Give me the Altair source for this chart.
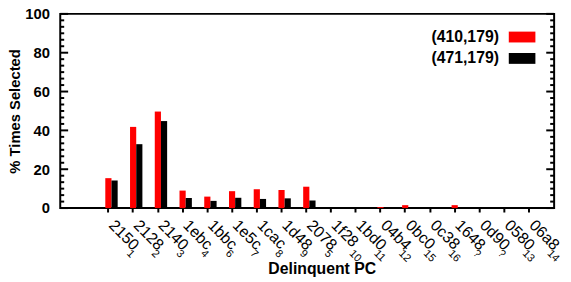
import altair as alt
import pandas as pd

# ---- data ----
pc_main = ["2150", "2128", "2140", "1ebc", "1bbc", "1e5c", "1cac", "1d48", "2078",
           "1f28", "1bd0", "04b4", "0bc0", "0c38", "1648", "0d90", "0580", "06a8"]
pc_sub = ["1", "2", "3", "4", "6", "7", "8", "9", "5", "10", "11", "12", "15", "16",
          "?", "?", "13", "14"]
series = ["(410,179)", "(471,179)"]
vals_410 = [15.4, 41.8, 49.7, 9.0, 5.9, 8.7, 9.7, 9.3, 11.0, 0, 0, 0.5, 1.5, 0, 1.5, 0, 0, 0]
vals_471 = [14.2, 32.9, 44.8, 5.2, 3.7, 5.3, 4.7, 5.0, 3.9, 0, 0, 0, 0.5, 0, 0, 0, 0, 0]
colors = ["#ff0000", "#000000"]
y_major = [0, 20, 40, 60, 80, 100]
minor_per_major = 6

pcs = [m + s for m, s in zip(pc_main, pc_sub)]
rows = []
for i, pc in enumerate(pcs):
    rows.append({"pc": pc, "series": series[0], "value": vals_410[i]})
    rows.append({"pc": pc, "series": series[1], "value": vals_471[i]})
df = pd.DataFrame(rows)
sub_df = pd.DataFrame({"pc": pcs, "sub": pc_sub})

step = (y_major[1] - y_major[0]) / minor_per_major
minor_ticks = [round(y_major[0] + k * step, 4)
               for k in range((len(y_major) - 1) * minor_per_major + 1)
               if k % minor_per_major != 0]
major_df = pd.DataFrame({"value": y_major})
minor_df = pd.DataFrame({"value": minor_ticks})

W, H = 501, 197
FONT = "Liberation Sans"
TICK, LPAD = 4, 10.5

x_scale = alt.Scale(domain=pcs, paddingInner=0.5, paddingOuter=0, range=[45.7, 484.8])
y_scale = alt.Scale(domain=[0, 100], nice=False, zero=True)
color_scale = alt.Scale(domain=series, range=colors)

x_axis = alt.Axis(bandPosition=0.25, labelAngle=45, labelAlign="left",
                  labelBaseline="middle", labelFont=FONT, labelFontSize=16,
                  labelColor="black", labelPadding=LPAD, tickSize=TICK, tickWidth=2,
                  tickColor="black", domain=False, titleFont=FONT,
                  titleFontSize=16, titleFontWeight="bold", titleColor="black",
                  titlePadding=8, labelOverlap=False,
                  labelExpr="substring(datum.label, 0, 4)")
y_axis = alt.Axis(values=y_major, ticks=False, tickSize=0, domain=False,
                  grid=False, labelFont=FONT, labelFontSize=15,
                  labelFontWeight="bold", labelColor="black", labelPadding=11,
                  titleFont=FONT, titleFontSize=15, titleFontWeight="bold",
                  titleColor="black", titlePadding=2)

X = alt.X("pc:N", scale=x_scale, sort=pcs, title="Delinquent PC", axis=x_axis)
Y_TITLE = "% Times Selected"

bars = alt.Chart(df).mark_bar().encode(
    x=X,
    xOffset=alt.XOffset("series:N", scale=alt.Scale(domain=series), sort=series),
    y=alt.Y("value:Q", scale=y_scale, title=Y_TITLE, axis=y_axis),
    color=alt.Color("series:N", scale=color_scale, legend=None),
)

subs = alt.Chart(sub_df).mark_text(
    angle=45, align="left", baseline="middle", font=FONT, fontSize=11,
    dx=35.5, dy=7, color="black"
).encode(
    x=alt.X("pc:N", scale=x_scale, sort=pcs, title="Delinquent PC", axis=x_axis,
            bandPosition=0.25),
    y=alt.value(H + TICK + LPAD),
    text="sub:N",
)

def tick_layer(data, x0, x1):
    return alt.Chart(data).mark_rule(color="black", strokeWidth=2).encode(
        y=alt.Y("value:Q", scale=y_scale, title=Y_TITLE, axis=y_axis),
        x=alt.value(x0), x2=alt.value(x1),
    )

tick_layers = [
    tick_layer(major_df, 0, 8), tick_layer(minor_df, 0, 4),
    tick_layer(major_df, W - 8, W), tick_layer(minor_df, W - 4, W),
]

legend_layers = []
for i, s in enumerate(series):
    ldf = pd.DataFrame({"series": [s]})
    yc = 23.5 + i * 21.7
    sw = alt.Chart(ldf).mark_rect().encode(
        x=alt.value(455), x2=alt.value(482), y=alt.value(yc - 5.5), y2=alt.value(yc + 5.5),
        color=alt.Color("series:N", scale=color_scale, legend=None),
    )
    tx = alt.Chart(ldf).mark_text(align="right", baseline="middle", font=FONT,
                                  fontSize=16, fontWeight="bold", color="black").encode(
        x=alt.value(445), y=alt.value(yc), text="series:N",
    )
    legend_layers += [sw, tx]

chart = alt.layer(bars, subs, *tick_layers, *legend_layers).properties(
    width=W, height=H,
    autosize=alt.AutoSizeParams(type="none"),
    padding={"left": 53, "top": 4, "right": 9, "bottom": 70},
).configure_view(stroke="black", strokeWidth=2)

chart.save("out.html", embed_options={"renderer": "svg", "actions": False})
